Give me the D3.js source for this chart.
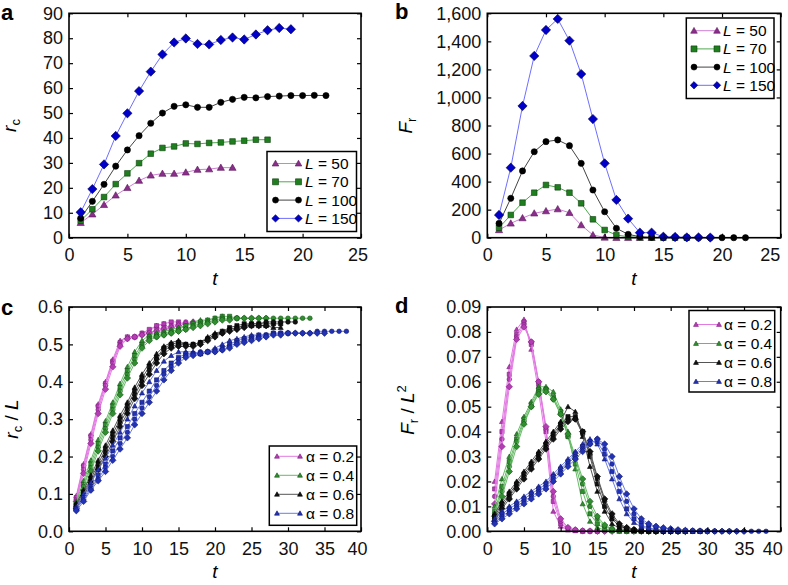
<!DOCTYPE html>
<html><head><meta charset="utf-8">
<script src="https://cdn.jsdelivr.net/npm/d3@7"></script>
<style>
body{margin:0;background:#fff}
svg{display:block}
text{font-family:"Liberation Sans",Arial,Helvetica,sans-serif}
</style>
</head><body>
<svg width="788" height="585"></svg>
<script>
// ---------------- DATA ----------------
// tick labels
const xTicksAB = [0,5,10,15,20,25];
const xTicksCD = [0,5,10,15,20,25,30,35,40];
const yTicksA = [0,10,20,30,40,50,60,70,80,90];
const yTicksB = [0,200,400,600,800,1000,1200,1400,1600];
const yTicksC = [0,0.1,0.2,0.3,0.4,0.5,0.6];
const yTicksD = [0,0.01,0.02,0.03,0.04,0.05,0.06,0.07,0.08,0.09];
const sizeLabels = ["50","70","100","150"];
const alphaLabels = ["0.2","0.4","0.6","0.8"];

// panel a : r_c vs t (t = 1, 2, ...)
const aL50  = [6.0, 9.4, 13.2, 17.0, 20.0, 22.9, 25.0, 25.7, 25.7, 26.2, 27.3, 27.5, 28.1, 28.1];
const aL70  = [6.8, 11.4, 16.3, 21.5, 25.8, 29.9, 33.7, 36.0, 36.6, 37.8, 37.6, 38.0, 38.2, 38.6, 38.9, 39.3, 39.3];
const aL100 = [7.8, 14.6, 21.4, 28.7, 35.2, 40.9, 45.9, 50.0, 52.7, 53.3, 52.3, 52.3, 54.3, 55.5, 56.3, 56.1, 56.6, 56.8, 57.0, 57.0, 57.1, 57.0];
const aL150 = [10.2, 19.5, 29.4, 40.8, 49.9, 58.8, 66.6, 73.5, 78.3, 79.9, 77.7, 77.5, 79.3, 80.3, 79.5, 81.5, 83.2, 84.1, 83.6];

// panel b : F_r vs t
const bL50  = [55, 102, 140, 174, 190, 204, 178, 90, 19, 2, 0, 0, 0, 0];
const bL70  = [71, 162, 250, 321, 376, 359, 321, 245, 131, 55, 19, 7, 2, 1, 0, 0, 0];
const bL100 = [102, 281, 476, 613, 685, 697, 656, 530, 340, 185, 67, 24, 7, 3, 1, 1, 0, 0, 0, 0, 0, 0];
const bL150 = [162, 499, 939, 1296, 1481, 1560, 1405, 1167, 846, 530, 269, 136, 36, 36, 7, 5, 2, 2, 1];

// panel c : r_c / L vs t, per alpha, per L (50, 70, 100, 150)
const c02L50  = [0.095, 0.18, 0.26, 0.34, 0.40, 0.46, 0.51, 0.52, 0.52, 0.53, 0.535, 0.55, 0.555];
const c02L70  = [0.09, 0.175, 0.255, 0.335, 0.395, 0.455, 0.505, 0.52, 0.52, 0.53, 0.54, 0.55, 0.555, 0.56, 0.56];
const c02L100 = [0.085, 0.165, 0.245, 0.325, 0.39, 0.45, 0.50, 0.515, 0.52, 0.525, 0.53, 0.54, 0.545, 0.55, 0.555, 0.56];
const c02L150 = [0.08, 0.155, 0.235, 0.315, 0.38, 0.44, 0.495, 0.515, 0.52, 0.525, 0.53, 0.535, 0.54, 0.545, 0.55, 0.555, 0.56];
const c04L50  = [0.08, 0.135, 0.19, 0.245, 0.295, 0.345, 0.395, 0.44, 0.48, 0.51, 0.525, 0.53, 0.535, 0.54, 0.545, 0.55, 0.56, 0.565, 0.565, 0.57, 0.575];
const c04L70  = [0.075, 0.125, 0.18, 0.235, 0.285, 0.335, 0.385, 0.43, 0.47, 0.50, 0.52, 0.525, 0.53, 0.535, 0.54, 0.55, 0.555, 0.56, 0.565, 0.57, 0.575, 0.575, 0.57];
const c04L100 = [0.07, 0.12, 0.17, 0.225, 0.275, 0.325, 0.375, 0.42, 0.46, 0.495, 0.515, 0.52, 0.525, 0.53, 0.535, 0.54, 0.55, 0.555, 0.56, 0.565, 0.57, 0.57, 0.57, 0.57, 0.57, 0.57, 0.57, 0.57, 0.57, 0.57, 0.57, 0.57, 0.57];
const c04L150 = [0.065, 0.11, 0.16, 0.215, 0.265, 0.315, 0.365, 0.41, 0.45, 0.49, 0.51, 0.52, 0.525, 0.53, 0.535, 0.54, 0.545, 0.55, 0.555, 0.56, 0.565, 0.565, 0.57, 0.57, 0.57, 0.57, 0.57];
const c06L50  = [0.075, 0.11, 0.15, 0.19, 0.23, 0.27, 0.31, 0.345, 0.385, 0.42, 0.45, 0.475, 0.495, 0.505, 0.51, 0.5, 0.5, 0.505, 0.52, 0.53, 0.535, 0.54, 0.545, 0.55, 0.55, 0.55, 0.55, 0.545, 0.545];
const c06L70  = [0.07, 0.105, 0.14, 0.18, 0.22, 0.26, 0.3, 0.335, 0.375, 0.41, 0.44, 0.465, 0.49, 0.5, 0.505, 0.5, 0.5, 0.505, 0.515, 0.525, 0.535, 0.545, 0.55, 0.555, 0.555, 0.555, 0.555, 0.555, 0.555];
const c06L100 = [0.065, 0.1, 0.135, 0.17, 0.21, 0.25, 0.29, 0.325, 0.365, 0.4, 0.43, 0.46, 0.485, 0.495, 0.5, 0.5, 0.5, 0.505, 0.515, 0.525, 0.53, 0.54, 0.545, 0.55, 0.555, 0.555, 0.56, 0.56, 0.56, 0.56, 0.56];
const c06L150 = [0.06, 0.095, 0.13, 0.165, 0.2, 0.24, 0.28, 0.315, 0.355, 0.39, 0.42, 0.45, 0.475, 0.49, 0.495, 0.495, 0.495, 0.5, 0.51, 0.52, 0.53, 0.535, 0.54, 0.545, 0.55, 0.55, 0.55];
const c08L50  = [0.065, 0.1, 0.13, 0.165, 0.195, 0.23, 0.265, 0.3, 0.335, 0.37, 0.4, 0.43, 0.455, 0.47, 0.48, 0.48, 0.48, 0.475, 0.48, 0.49, 0.5, 0.51, 0.515, 0.52, 0.525, 0.525, 0.525];
const c08L70  = [0.06, 0.09, 0.12, 0.15, 0.18, 0.215, 0.25, 0.28, 0.315, 0.345, 0.375, 0.405, 0.43, 0.45, 0.465, 0.475, 0.475, 0.475, 0.48, 0.485, 0.49, 0.5, 0.51, 0.515, 0.52, 0.525, 0.525, 0.53, 0.53, 0.53];
const c08L100 = [0.06, 0.085, 0.115, 0.14, 0.17, 0.2, 0.235, 0.265, 0.3, 0.33, 0.36, 0.39, 0.42, 0.44, 0.46, 0.47, 0.475, 0.48, 0.48, 0.48, 0.485, 0.495, 0.505, 0.51, 0.515, 0.52, 0.525, 0.53, 0.53, 0.53, 0.53, 0.53, 0.53, 0.535, 0.535, 0.535, 0.535, 0.535];
const c08L150 = [0.055, 0.08, 0.11, 0.135, 0.16, 0.19, 0.22, 0.25, 0.285, 0.315, 0.345, 0.375, 0.405, 0.43, 0.45, 0.465, 0.47, 0.475, 0.48, 0.48, 0.485, 0.49, 0.5, 0.505, 0.51, 0.515, 0.52, 0.525, 0.525, 0.53, 0.53, 0.53, 0.53, 0.53, 0.53];

// panel d : F_r / L^2 vs t, per alpha, per L
const d02L50  = [0.020, 0.044, 0.066, 0.081, 0.085, 0.073, 0.056, 0.036, 0.008, 0.002, 0.0005, 0.0002, 0];
const d02L70  = [0.017, 0.040, 0.063, 0.079, 0.084, 0.075, 0.059, 0.040, 0.012, 0.003, 0.001, 0.0004, 0.0001, 0, 0];
const d02L100 = [0.014, 0.037, 0.061, 0.078, 0.083, 0.076, 0.060, 0.041, 0.014, 0.004, 0.0013, 0.0005, 0.0002, 0.0001, 0, 0];
const d02L150 = [0.011, 0.034, 0.058, 0.077, 0.082, 0.076, 0.060, 0.042, 0.016, 0.005, 0.0015, 0.0006, 0.0002, 0.0001, 0, 0, 0];
const d04L50  = [0.010, 0.021, 0.030, 0.039, 0.046, 0.052, 0.058, 0.058, 0.056, 0.049, 0.040, 0.025, 0.011, 0.004, 0.0015, 0.0005, 0.0002, 0, 0, 0, 0];
const d04L70  = [0.008, 0.018, 0.028, 0.037, 0.045, 0.051, 0.057, 0.057, 0.054, 0.048, 0.038, 0.027, 0.016, 0.007, 0.003, 0.001, 0.0004, 0.0001, 0, 0, 0, 0, 0];
const d04L100 = [0.007, 0.016, 0.026, 0.036, 0.044, 0.050, 0.056, 0.057, 0.053, 0.047, 0.038, 0.029, 0.019, 0.010, 0.005, 0.002, 0.001, 0.0004, 0.0001, 0, 0, 0, 0, 0, 0, 0, 0, 0, 0, 0, 0, 0, 0];
const d04L150 = [0.006, 0.014, 0.024, 0.034, 0.043, 0.050, 0.055, 0.056, 0.053, 0.047, 0.039, 0.030, 0.021, 0.012, 0.006, 0.0025, 0.001, 0.0004, 0.0001, 0, 0, 0, 0, 0, 0, 0, 0];
const d06L50  = [0.007, 0.012, 0.016, 0.020, 0.024, 0.028, 0.032, 0.036, 0.040, 0.044, 0.050, 0.048, 0.038, 0.026, 0.016, 0.008, 0.003, 0.0012, 0.0005, 0.0002, 0.0001, 0, 0, 0, 0, 0, 0, 0, 0];
const d06L70  = [0.006, 0.011, 0.015, 0.019, 0.023, 0.027, 0.031, 0.035, 0.039, 0.043, 0.046, 0.046, 0.040, 0.030, 0.019, 0.010, 0.005, 0.002, 0.001, 0.0004, 0.0002, 0.0001, 0, 0, 0, 0, 0, 0, 0];
const d06L100 = [0.005, 0.010, 0.014, 0.018, 0.022, 0.026, 0.030, 0.034, 0.038, 0.042, 0.045, 0.045, 0.039, 0.031, 0.021, 0.012, 0.006, 0.0025, 0.0012, 0.0006, 0.0003, 0.0001, 0, 0, 0, 0, 0, 0, 0, 0, 0];
const d06L150 = [0.004, 0.009, 0.013, 0.017, 0.021, 0.025, 0.029, 0.033, 0.037, 0.041, 0.044, 0.045, 0.040, 0.032, 0.022, 0.013, 0.007, 0.003, 0.0015, 0.0007, 0.0003, 0.0001, 0, 0, 0, 0, 0];
const d08L50  = [0.005, 0.008, 0.010, 0.012, 0.014, 0.016, 0.018, 0.020, 0.023, 0.026, 0.029, 0.032, 0.035, 0.037, 0.035, 0.029, 0.021, 0.013, 0.007, 0.0035, 0.0018, 0.001, 0.0006, 0.0003, 0.0002, 0.0001, 0];
const d08L70  = [0.004, 0.007, 0.009, 0.011, 0.013, 0.015, 0.017, 0.019, 0.022, 0.025, 0.028, 0.031, 0.034, 0.036, 0.036, 0.031, 0.024, 0.016, 0.009, 0.005, 0.0025, 0.0013, 0.0008, 0.0005, 0.0003, 0.0002, 0.0001, 0, 0, 0];
const d08L100 = [0.0035, 0.006, 0.008, 0.010, 0.012, 0.014, 0.016, 0.018, 0.021, 0.024, 0.027, 0.030, 0.033, 0.035, 0.037, 0.033, 0.027, 0.019, 0.012, 0.007, 0.004, 0.0025, 0.0018, 0.0012, 0.0008, 0.0005, 0.0003, 0.0002, 0.0001, 0.0001, 0, 0, 0, 0, 0, 0, 0, 0];
const d08L150 = [0.003, 0.005, 0.007, 0.009, 0.011, 0.013, 0.015, 0.017, 0.020, 0.023, 0.026, 0.029, 0.032, 0.035, 0.037, 0.035, 0.030, 0.022, 0.015, 0.009, 0.005, 0.003, 0.002, 0.0014, 0.001, 0.0006, 0.0004, 0.0002, 0.0001, 0, 0, 0, 0, 0, 0];

// ---------------- STYLES ----------------
const shapes = ["tri","sq","circ","dia"];
const sizeStyles = [
  {line:"#cf7fd6", fill:"#8b2d8b", stroke:"#5a1a5a"},
  {line:"#4fa84f", fill:"#1f7f1f", stroke:"#0c3c0c"},
  {line:"#444444", fill:"#000000", stroke:"#000000"},
  {line:"#6f6fff", fill:"#0000c8", stroke:"#00005a"}
];
const alphaStyles = [
  {line:"#e27ae2", fill:"#b43db4", stroke:"#7a1f7a"},
  {line:"#66bb66", fill:"#2f8f2f", stroke:"#165016"},
  {line:"#555555", fill:"#111111", stroke:"#000000"},
  {line:"#6c7ce8", fill:"#2232b4", stroke:"#101870"}
];

const svg = d3.select("svg");

function markerPath(shape, s) {
  const p = d3.path();
  if (shape === "tri") { p.moveTo(0, -s*0.55); p.lineTo(s*0.55, s*0.42); p.lineTo(-s*0.55, s*0.42); p.closePath(); }
  else if (shape === "sq") { p.rect(-s/2, -s/2, s, s); }
  else if (shape === "circ") { p.moveTo(s/2, 0); p.arc(0, 0, s/2, 0, 2*Math.PI); }
  else { const h = s*0.62; p.moveTo(0,-h); p.lineTo(h,0); p.lineTo(0,h); p.lineTo(-h,0); p.closePath(); }
  return p.toString();
}

function drawPanel(o) {
  const g = svg.append("g");
  const x = d3.scaleLinear().domain(o.xDomain).range([o.left, o.right]);
  const y = d3.scaleLinear().domain(o.yDomain).range([o.bottom, o.top]);
  const line = d3.line().x(d => x(d[0])).y(d => y(d[1]));

  o.series.forEach(s => {
    const pts = s.values.map((v, i) => [i + 1, v]);
    g.append("path").attr("d", line(pts)).attr("fill", "none")
      .attr("stroke", s.style.line).attr("stroke-width", o.lw);
    g.append("g").selectAll("path").data(pts).join("path")
      .attr("transform", d => `translate(${x(d[0])},${y(d[1])})`)
      .attr("d", markerPath(s.shape, o.ms[s.shape]))
      .attr("fill", s.style.fill).attr("stroke", s.style.stroke).attr("stroke-width", 0.6);
  });

  // axes (inward ticks on all four sides)
  const styleAxis = (sel, fs) => {
    sel.select(".domain").remove();
    sel.selectAll("line").attr("stroke", "#000").attr("stroke-width", 1.2);
    sel.selectAll("text").attr("font-size", fs).attr("fill", "#111")
      .attr("font-family", '"Liberation Sans", Arial, sans-serif');
  };
  const bx = g.append("g").attr("transform", `translate(0,${o.bottom})`)
    .call(d3.axisBottom(x).tickValues(o.xTicks).tickSize(-4).tickPadding(11).tickFormat(d3.format("d")))
    .call(s => styleAxis(s, o.fs));
  // last x label sits slightly inside the frame, as in the reference
  bx.selectAll(".tick text").filter(d => d === o.xTicks[o.xTicks.length - 1]).attr("dx", o.lastDx);
  g.append("g").attr("transform", `translate(0,${o.top})`)
    .call(d3.axisTop(x).tickValues(o.xTicks).tickSize(-4).tickFormat(""))
    .call(s => styleAxis(s, o.fs));
  g.append("g").attr("transform", `translate(${o.left},0)`)
    .call(d3.axisLeft(y).tickValues(o.yTicks).tickSize(-4).tickPadding(6).tickFormat(o.yFmt))
    .call(s => styleAxis(s, o.fs));
  g.append("g").attr("transform", `translate(${o.right},0)`)
    .call(d3.axisRight(y).tickValues(o.yTicks).tickSize(-4).tickFormat(""))
    .call(s => styleAxis(s, o.fs));

  g.append("rect").attr("x", o.left).attr("y", o.top)
    .attr("width", o.right - o.left).attr("height", o.bottom - o.top)
    .attr("fill", "none").attr("stroke", "#000").attr("stroke-width", 1.6);

  // x label
  g.append("text").attr("x", (o.left + o.right) / 2).attr("y", o.bottom + 47)
    .attr("text-anchor", "middle").attr("font-size", 19).attr("font-style", "italic").text("t");

  // y label
  const yl = g.append("text").attr("transform", `translate(${o.ylabX},${o.ylabY}) rotate(-90)`)
    .attr("text-anchor", "middle").attr("font-size", 19);
  o.ylab(yl);

  // panel letter
  g.append("text").attr("x", o.letX).attr("y", o.letY).attr("font-size", 22)
    .attr("font-weight", "bold").text(o.letter);

  // legend
  const L = o.legend;
  g.append("rect").attr("x", L.x0).attr("y", L.y0).attr("width", L.x1 - L.x0).attr("height", L.y1 - L.y0)
    .attr("fill", "#fff").attr("stroke", "#000").attr("stroke-width", 1.5);
  L.items.forEach((it, i) => {
    const yy = L.ry + i * L.dy;
    g.append("line").attr("x1", L.lx0).attr("x2", L.lx1).attr("y1", yy).attr("y2", yy)
      .attr("stroke", it.style.line).attr("stroke-width", o.lw);
    [L.lx0, L.lx1].forEach(xx => {
      g.append("path").attr("transform", `translate(${xx},${yy})`)
        .attr("d", markerPath(it.shape, L.ms)).attr("fill", it.style.fill)
        .attr("stroke", it.style.stroke).attr("stroke-width", 0.6);
    });
    const t = g.append("text").attr("x", L.tx).attr("y", yy).attr("dy", "0.36em").attr("font-size", 15.5);
    it.label(t);
  });
}

const sizeLabelFn = v => t => { t.append("tspan").attr("font-style", "italic").text("L"); t.append("tspan").text(" = " + v); };
const alphaLabelFn = v => t => { t.text("\u03b1 = " + v); };

const aSeries = [aL50, aL70, aL100, aL150].map((v, i) => ({values: v, shape: shapes[i], style: sizeStyles[i]}));
const bSeries = [bL50, bL70, bL100, bL150].map((v, i) => ({values: v, shape: shapes[i], style: sizeStyles[i]}));
const cGroups = [[c02L50, c02L70, c02L100, c02L150], [c04L50, c04L70, c04L100, c04L150],
                 [c06L50, c06L70, c06L100, c06L150], [c08L50, c08L70, c08L100, c08L150]];
const dGroups = [[d02L50, d02L70, d02L100, d02L150], [d04L50, d04L70, d04L100, d04L150],
                 [d06L50, d06L70, d06L100, d06L150], [d08L50, d08L70, d08L100, d08L150]];
const cSeries = [], dSeries = [];
cGroups.forEach((grp, a) => grp.forEach((v, k) => cSeries.push({values: v, shape: shapes[k], style: alphaStyles[a]})));
dGroups.forEach((grp, a) => grp.forEach((v, k) => dSeries.push({values: v, shape: shapes[k], style: alphaStyles[a]})));

const msAB = {tri: 6.5, sq: 5.6, circ: 6.2, dia: 7.5};
const msCD = {tri: 4.6, sq: 4.2, circ: 4.6, dia: 5.2};

drawPanel({
  letter: "a", letX: 1, letY: 20,
  left: 69, right: 361, top: 13.3, bottom: 237.7, lastDx: -3.5,
  xDomain: [0, 25], yDomain: [0, 90], xTicks: xTicksAB, yTicks: yTicksA,
  yFmt: d3.format("d"), fs: 18, lw: 1, ms: msAB, series: aSeries,
  ylabX: 16, ylabY: 125.5,
  ylab: t => { t.append("tspan").attr("font-style", "italic").text("r"); t.append("tspan").attr("font-size", 13).attr("dy", 4).text("c"); },
  legend: {x0: 267, y0: 151.5, x1: 356.5, y1: 231.5, ry: 163.5, dy: 18.3, lx0: 275.5, lx1: 298.5, tx: 305, ms: 6,
    items: sizeLabels.map((v, i) => ({shape: shapes[i], style: sizeStyles[i], label: sizeLabelFn(v)}))}
});

drawPanel({
  letter: "b", letX: 395, letY: 19,
  left: 487.3, right: 780.7, top: 13.3, bottom: 237.7, lastDx: -11,
  xDomain: [0, 25], yDomain: [0, 1600], xTicks: xTicksAB, yTicks: yTicksB,
  yFmt: d3.format(","), fs: 18, lw: 1, ms: msAB, series: bSeries,
  ylabX: 412, ylabY: 125.5,
  ylab: t => { t.append("tspan").attr("font-style", "italic").text("F"); t.append("tspan").attr("font-size", 13).attr("dy", 4).text("r"); },
  legend: {x0: 686.3, y0: 18, x1: 774, y1: 98.5, ry: 30.7, dy: 18.2, lx0: 694, lx1: 717, tx: 723, ms: 6,
    items: sizeLabels.map((v, i) => ({shape: shapes[i], style: sizeStyles[i], label: sizeLabelFn(v)}))}
});

drawPanel({
  letter: "c", letX: 1, letY: 315,
  left: 69, right: 361, top: 307, bottom: 531.3, lastDx: -4,
  xDomain: [0, 40], yDomain: [0, 0.6], xTicks: xTicksCD, yTicks: yTicksC,
  yFmt: d3.format(".1f"), fs: 18, lw: 1, ms: msCD, series: cSeries,
  ylabX: 18, ylabY: 419,
  ylab: t => {
    t.append("tspan").attr("font-style", "italic").text("r");
    t.append("tspan").attr("font-size", 13).attr("dy", 4).text("c");
    t.append("tspan").attr("dy", -4).text(" / ");
    t.append("tspan").attr("font-style", "italic").text("L");
  },
  legend: {x0: 269.3, y0: 446, x1: 356.7, y1: 525.3, ry: 456.3, dy: 19, lx0: 277, lx1: 300, tx: 306, ms: 4.5,
    items: alphaLabels.map((v, i) => ({shape: "tri", style: alphaStyles[i], label: alphaLabelFn(v)}))}
});

drawPanel({
  letter: "d", letX: 395, letY: 313,
  left: 487.3, right: 780.7, top: 307, bottom: 531.3, lastDx: -8.5,
  xDomain: [0, 40], yDomain: [0, 0.09], xTicks: xTicksCD, yTicks: yTicksD,
  yFmt: d3.format(".2f"), fs: 18, lw: 1, ms: msCD, series: dSeries,
  ylabX: 414, ylabY: 410,
  ylab: t => {
    t.append("tspan").attr("font-style", "italic").text("F");
    t.append("tspan").attr("font-size", 13).attr("dy", 4).text("r");
    t.append("tspan").attr("dy", -4).text(" / ");
    t.append("tspan").attr("font-style", "italic").text("L");
    t.append("tspan").attr("font-size", 13).attr("dy", -8).text("2");
  },
  legend: {x0: 689, y0: 310.5, x1: 774.7, y1: 392, ry: 324.5, dy: 19, lx0: 696, lx1: 719, tx: 724, ms: 4.5,
    items: alphaLabels.map((v, i) => ({shape: "tri", style: alphaStyles[i], label: alphaLabelFn(v)}))}
});
</script>
</body></html>
